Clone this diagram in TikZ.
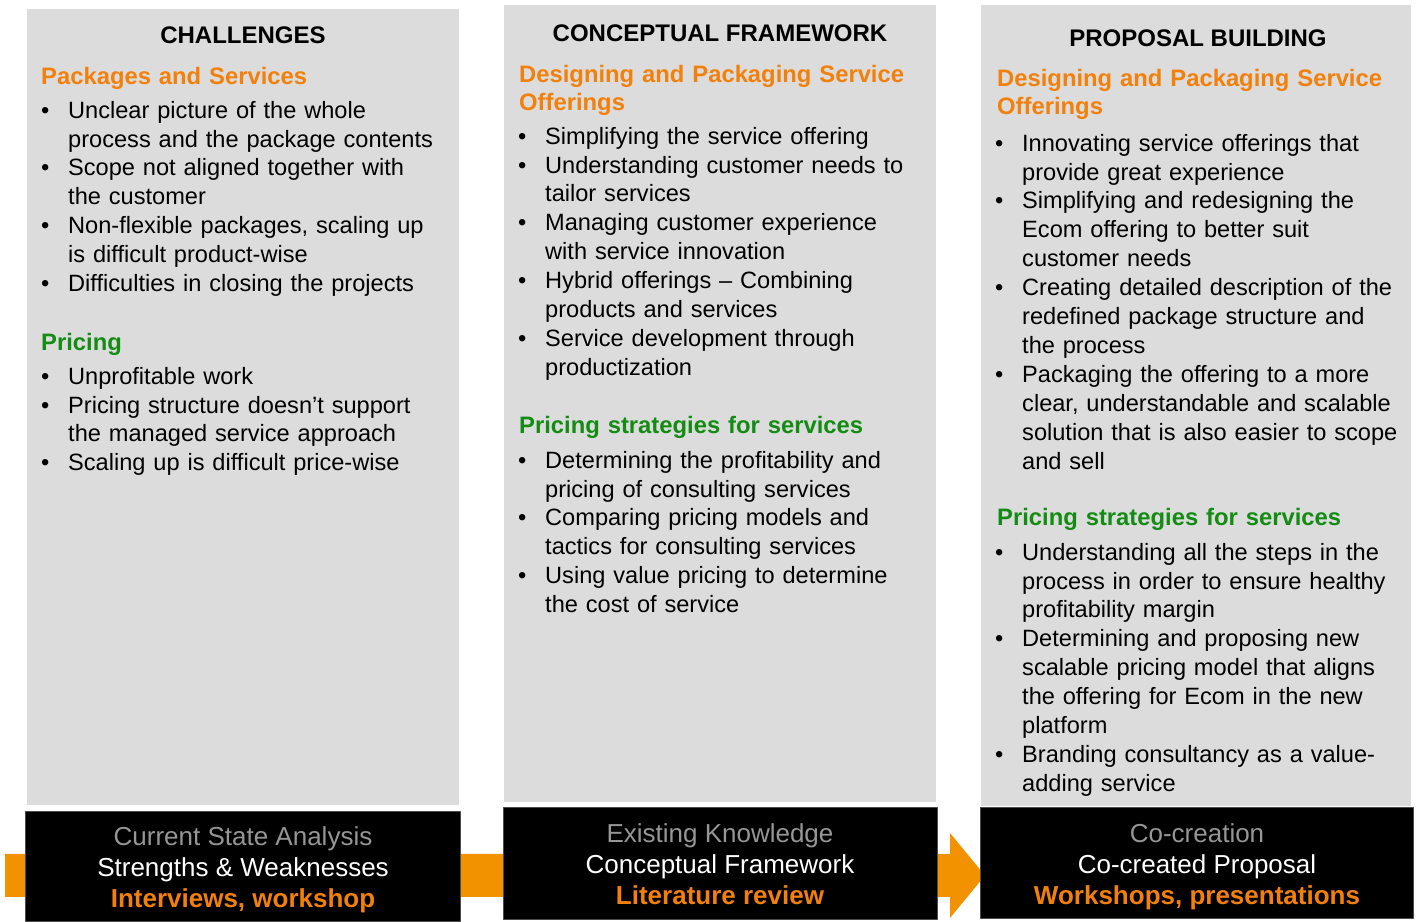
\documentclass[tikz,border=0pt]{standalone}
\usepackage{fontspec}
\setmainfont{Liberation Sans}
\usepackage{tikz}
\definecolor{panelgray}{RGB}{220,220,220}
\definecolor{hdorange}{RGB}{242,128,10}
\definecolor{hdgreen}{RGB}{20,140,20}
\definecolor{floworange}{RGB}{243,146,0}
\definecolor{footgray}{RGB}{150,150,150}
\newcommand{\bitem}{\rule{0pt}{20bp}\makebox[27bp][l]{\textbullet}}
\newcommand{\bcont}{\hspace*{27bp}}

\begin{document}
\begin{tikzpicture}[line join=bevel,
	panel/.style={fill=panelgray,inner sep=0pt},
	foot/.style={fill=black,draw=black!70,line width=0.8bp,inner sep=0pt},
	title/.style={anchor=base,inner sep=0pt,font=\fontsize{24bp}{28.8bp}\selectfont\bfseries},
	head/.style={anchor=north west,inner sep=0pt,text width=420bp,align=left,font=\fontsize{23.8bp}{28.8bp}\selectfont\bfseries},
	blist/.style={anchor=north west,inner sep=0pt,text width=420bp,align=left,font=\fontsize{23.6bp}{28.9bp}\selectfont},
	foottext/.style={anchor=north,inner sep=0pt,align=center,font=\fontsize{26bp}{31bp}\selectfont}]
		\useasboundingbox (0bp,0bp) rectangle (1418bp,922bp);
		% columns
		\node (chal) at (243bp,515bp) [panel,minimum width=432bp,minimum height=796bp] {};
		\node (conc) at (720bp,518.5bp) [panel,minimum width=432bp,minimum height=797bp] {};
		\node (prop) at (1196bp,516.5bp) [panel,minimum width=430bp,minimum height=801bp] {};
		% flow arrow
		\coordinate (start) at (5bp,46.5bp);
		\coordinate (tip) at (985bp,46.5bp);
		\fill [floworange] ([yshift=21.5bp]start) -- ([xshift=-35bp,yshift=21.5bp]tip) -- ([xshift=-35bp,yshift=42.5bp]tip) -- (tip) -- ([xshift=-35bp,yshift=-42.5bp]tip) -- ([xshift=-35bp,yshift=-21.5bp]tip) -- ([yshift=-21.5bp]start) -- cycle;
		\node (chalfoot) at (242.5bp,56bp) [foot,minimum width=435bp,minimum height=110bp] {};
		\node (concfoot) at (720bp,59bp) [foot,minimum width=434bp,minimum height=112bp] {};
		\node (propfoot) at (1196.5bp,59.5bp) [foot,minimum width=433bp,minimum height=111bp] {};
		% challenges
		\node (chalttl) at (243bp,878bp) [title] {CHALLENGES};
		\node (chalpkg) at (41bp,858bp) [head,text=hdorange] {\rule{0pt}{20bp}Packages and Services};
		\node (chalpkglist) at (41bp,824bp) [blist] {\bitem Unclear picture of the whole\\
			\bcont process and the package contents\\
			\bitem Scope not aligned together with\\
			\bcont the customer\\
			\bitem Non-flexible packages, scaling up\\
			\bcont is difficult product-wise\\
			\bitem Difficulties in closing the projects};
		\node (chalprc) at (41bp,592bp) [head,text=hdgreen] {\rule{0pt}{20bp}Pricing};
		\node (chalprclist) at (41bp,558bp) [blist] {\bitem Unprofitable work\\
			\bitem Pricing structure doesn’t support\\
			\bcont the managed service approach\\
			\bitem Scaling up is difficult price-wise};
		% conceptual framework
		\node (concttl) at (720bp,880bp) [title] {CONCEPTUAL FRAMEWORK};
		\node (concpkg) at (519bp,860bp) [head,text=hdorange] {\rule{0pt}{20bp}Designing and Packaging Service\\Offerings};
		\node (concpkglist) at (518bp,798bp) [blist] {\bitem Simplifying the service offering\\
			\bitem Understanding customer needs to\\
			\bcont tailor services\\
			\bitem Managing customer experience\\
			\bcont with service innovation\\
			\bitem Hybrid offerings – Combining\\
			\bcont products and services\\
			\bitem Service development through\\
			\bcont productization};
		\node (concprc) at (519bp,509bp) [head,text=hdgreen] {\rule{0pt}{20bp}Pricing strategies for services};
		\node (concprclist) at (518bp,474bp) [blist] {\bitem Determining the profitability and\\
			\bcont pricing of consulting services\\
			\bitem Comparing pricing models and\\
			\bcont tactics for consulting services\\
			\bitem Using value pricing to determine\\
			\bcont the cost of service};
		% proposal building
		\node (propttl) at (1198bp,875.5bp) [title] {PROPOSAL BUILDING};
		\node (proppkg) at (997bp,856bp) [head,text=hdorange] {\rule{0pt}{20bp}Designing and Packaging Service\\Offerings};
		\node (proppkglist) at (995bp,791bp) [blist] {\bitem Innovating service offerings that\\
			\bcont provide great experience\\
			\bitem Simplifying and redesigning the\\
			\bcont Ecom offering to better suit\\
			\bcont customer needs\\
			\bitem Creating detailed description of the\\
			\bcont redefined package structure and\\
			\bcont the process\\
			\bitem Packaging the offering to a more\\
			\bcont clear, understandable and scalable\\
			\bcont solution that is also easier to scope\\
			\bcont and sell};
		\node (propprc) at (997bp,417bp) [head,text=hdgreen] {\rule{0pt}{20bp}Pricing strategies for services};
		\node (propprclist) at (995bp,382bp) [blist] {\bitem Understanding all the steps in the\\
			\bcont process in order to ensure healthy\\
			\bcont profitability margin\\
			\bitem Determining and proposing new\\
			\bcont scalable pricing model that aligns\\
			\bcont the offering for Ecom in the new\\
			\bcont platform\\
			\bitem Branding consultancy as a value-\\
			\bcont adding service};
		% footers
		\node (chalfoottxt) at (243bp,98bp) [foottext] {\rule{0pt}{21bp}\textcolor{footgray}{Current State Analysis}\\
			\textcolor{white}{Strengths \& Weaknesses}\\
			\textcolor{hdorange}{\bfseries Interviews, workshop}};
		\node (concfoottxt) at (720bp,101bp) [foottext] {\rule{0pt}{21bp}\textcolor{footgray}{Existing Knowledge}\\
			\textcolor{white}{Conceptual Framework}\\
			\textcolor{hdorange}{\bfseries Literature review}};
		\node (propfoottxt) at (1197bp,101bp) [foottext] {\rule{0pt}{21bp}\textcolor{footgray}{Co-creation}\\
			\textcolor{white}{Co-created Proposal}\\
			\textcolor{hdorange}{\bfseries Workshops, presentations}};
	\end{tikzpicture}
\end{document}
